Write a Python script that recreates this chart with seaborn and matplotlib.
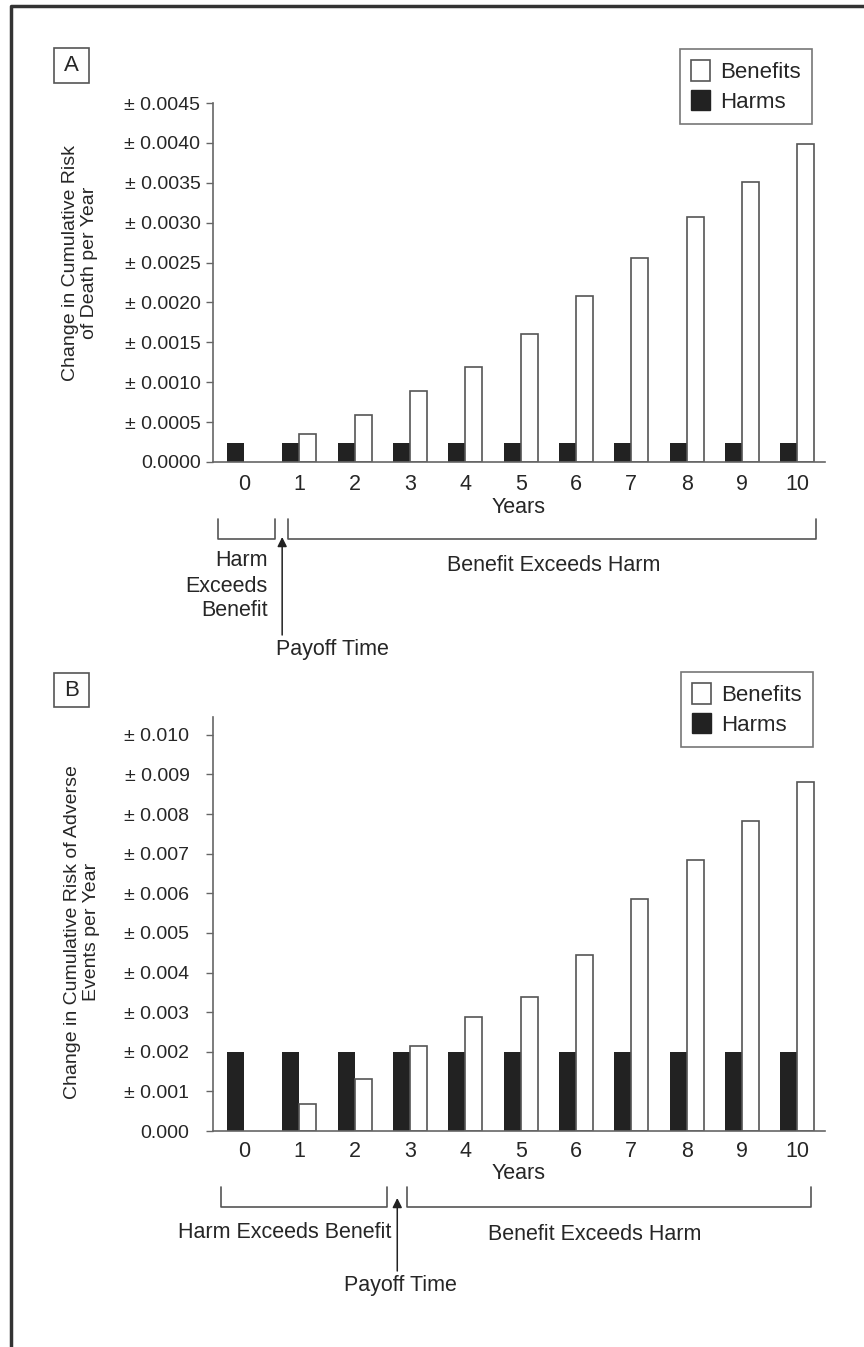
import pandas as pd
import numpy as np
import matplotlib
matplotlib.use("Agg")
import matplotlib.pyplot as plt
import matplotlib.transforms as mtrans
from matplotlib.patches import Patch, Rectangle
import seaborn as sns

# ---- data ----
years = list(range(11))

# panel A: change in cumulative risk of death per year
harms_a = [0.00024] * 11
benefits_a = [np.nan, 0.00035, 0.00059, 0.00089, 0.00119, 0.00160,
              0.00208, 0.00256, 0.00307, 0.00351, 0.00398]
yticks_a = [0.0, 0.0005, 0.0010, 0.0015, 0.0020, 0.0025, 0.0030, 0.0035, 0.0040, 0.0045]
ytick_labels_a = ["0.0000", "± 0.0005", "± 0.0010", "± 0.0015", "± 0.0020",
                  "± 0.0025", "± 0.0030", "± 0.0035", "± 0.0040", "± 0.0045"]

# panel B: change in cumulative risk of adverse events per year
harms_b = [0.0020] * 11
benefits_b = [np.nan, 0.00069, 0.00131, 0.00214, 0.00287, 0.00337,
              0.00444, 0.00585, 0.00683, 0.00782, 0.00881]
yticks_b = [0.0, 0.001, 0.002, 0.003, 0.004, 0.005, 0.006, 0.007, 0.008, 0.009, 0.010]
ytick_labels_b = ["0.000", "± 0.001", "± 0.002", "± 0.003", "± 0.004", "± 0.005",
                  "± 0.006", "± 0.007", "± 0.008", "± 0.009", "± 0.010"]

groups = ["Harms", "Benefits"]
colors = {"Harms": "#222222", "Benefits": "white"}

sns.set_theme(style="ticks")
plt.rcParams["font.family"] = ["Liberation Sans Narrow", "Liberation Sans", "DejaVu Sans"]
NARROW = ["Liberation Sans Narrow", "Liberation Sans", "DejaVu Sans"]
REG = ["Liberation Sans", "DejaVu Sans"]

W, H = 864, 1347
fig = plt.figure(figsize=(W / 100, H / 100), dpi=100)


def fx(px):
    return px / W


def fy(py):
    return 1 - py / H


def long_df(harms, benefits):
    rows = []
    for y, h, b in zip(years, harms, benefits):
        rows.append({"year": y, "group": "Harms", "value": h})
        if not np.isnan(b):
            rows.append({"year": y, "group": "Benefits", "value": b})
    return pd.DataFrame(rows)


def panel(rect, harms, benefits, yticks, ylabels, ytop, ypad, xpad):
    ax = fig.add_axes(rect)
    df = long_df(harms, benefits)
    sns.barplot(data=df, x="year", y="value", hue="group", hue_order=groups,
                palette=colors, saturation=1, width=0.62, errorbar=None,
                legend=False, ax=ax)
    for bar in ax.containers[0]:
        bar.set_edgecolor("none")
    for bar in ax.containers[1]:
        bar.set_edgecolor("#555555")
        bar.set_linewidth(1.2)
    ax.set_xlim(-0.56, 10.5)
    ax.set_ylim(0, ytop)
    ax.set_yticks(yticks)
    ax.set_yticklabels(ylabels)
    ax.tick_params(axis="y", length=5, width=1, color="#666666", pad=ypad,
                   labelsize=14)
    ax.tick_params(axis="x", length=0, pad=xpad, labelsize=15.5)
    sns.despine(ax=ax)
    for s in ["left", "bottom"]:
        ax.spines[s].set_color("#666666")
        ax.spines[s].set_linewidth(1.2)
    ax.set_xlabel("Years", fontsize=15.5, labelpad=1)
    ax.set_ylabel("")
    return ax


def legend_box(ax, right_px, top_px):
    handles = [Patch(facecolor="white", edgecolor="#555555", linewidth=1.2, label="Benefits"),
               Patch(facecolor="#222222", edgecolor="#222222", label="Harms")]
    leg = ax.legend(handles=handles, loc="upper right",
                    bbox_to_anchor=(fx(right_px), fy(top_px)),
                    bbox_transform=fig.transFigure, fontsize=16,
                    frameon=True, fancybox=False, edgecolor="#555555",
                    handlelength=0.85, handleheight=1.05, handletextpad=0.45,
                    labelspacing=0.3, borderpad=0.5, borderaxespad=0)
    leg.get_frame().set_linewidth(1.2)


def letter_box(letter, x0, y0, x1, y1):
    fig.add_artist(Rectangle((fx(x0), fy(y1)), fx(x1) - fx(x0), fy(y0) - fy(y1),
                             transform=fig.transFigure, facecolor="white",
                             edgecolor="#555555", linewidth=1.2))
    fig.text(fx((x0 + x1) / 2), fy((y0 + y1) / 2), letter, ha="center",
             va="center", fontsize=16)


def bracket(ax, x0, x1, ytop, ybot):
    tr = mtrans.blended_transform_factory(ax.transData, fig.transFigure)
    ax.plot([x0, x0, x1, x1], [fy(ytop), fy(ybot), fy(ybot), fy(ytop)],
            transform=tr, clip_on=False, color="#555555", lw=1.2)


def arrow(ax, x, ytip, ybase):
    tr = mtrans.blended_transform_factory(ax.transData, fig.transFigure)
    ax.annotate("", xy=(x, fy(ytip)), xytext=(x, fy(ybase)), xycoords=tr,
                textcoords=tr, annotation_clip=False,
                arrowprops=dict(arrowstyle="-|>", color="#222222", lw=1.1,
                                mutation_scale=14, shrinkA=0, shrinkB=0))


def note(ax, x, y, s, ha="center"):
    tr = mtrans.blended_transform_factory(ax.transData, fig.transFigure)
    ax.text(x, fy(y), s, transform=tr, ha=ha, va="center", fontsize=15.5,
            linespacing=1.25, multialignment="right" if ha == "right" else "center")


# ---- panel A ----
ax_a = panel([fx(213), fy(462), fx(825) - fx(213), (462 - 103) / H],
             harms_a, benefits_a, yticks_a, ytick_labels_a, 0.0045, 4, 9)
legend_box(ax_a, 812, 49)
letter_box("A", 54, 48, 89, 83)
fig.text(fx(80), fy(263), "Change in Cumulative Risk\nof Death per Year",
         rotation=90, ha="center", va="center", fontsize=14, family=REG,
         linespacing=1.15)
bracket(ax_a, -0.47, 0.56, 519, 539)
bracket(ax_a, 0.80, 10.34, 519, 539)
arrow(ax_a, 0.69, 537, 635)
note(ax_a, 0.43, 586, "Harm\nExceeds\nBenefit", ha="right")
note(ax_a, 5.6, 566, "Benefit Exceeds Harm")
note(ax_a, 0.58, 650, "Payoff Time", ha="left")

# ---- panel B ----
ax_b = panel([fx(213), fy(1131), fx(825) - fx(213), (1131 - 717) / H],
             harms_b, benefits_b, yticks_b, ytick_labels_b, 0.01045, 12, 7)
legend_box(ax_b, 813, 672)
letter_box("B", 54, 673, 89, 707)
fig.text(fx(82), fy(932), "Change in Cumulative Risk of Adverse\nEvents per Year",
         rotation=90, ha="center", va="center", fontsize=14, family=REG,
         linespacing=1.15)
bracket(ax_b, -0.42, 2.59, 1187, 1207)
bracket(ax_b, 2.95, 10.25, 1187, 1207)
arrow(ax_b, 2.77, 1198, 1271)
note(ax_b, 0.74, 1232, "Harm Exceeds Benefit")
note(ax_b, 6.33, 1234, "Benefit Exceeds Harm")
note(ax_b, 2.82, 1285, "Payoff Time")

# page frame (top and left edges visible in the source)
fig.add_artist(plt.Line2D([fx(11), fx(11), 1.0], [0.0, fy(6), fy(6)],
                          transform=fig.transFigure, color="#333333", lw=2.5))

fig.savefig("out.png", dpi=100, facecolor="white")
